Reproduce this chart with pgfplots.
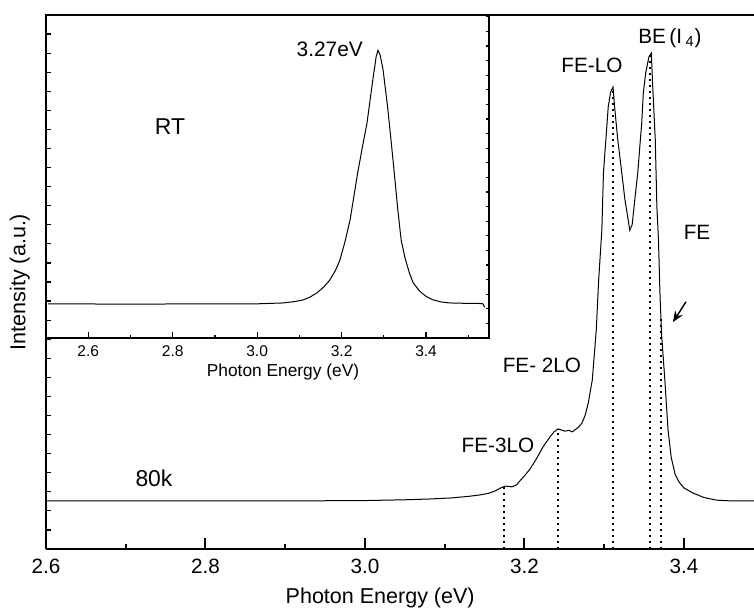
\documentclass[border=0pt]{standalone}
\usepackage{fontspec}
\setmainfont{Liberation Sans}
\usepackage{pgfplots}
\usepackage{pgfplotstable}
\pgfplotsset{compat=1.18}
\usetikzlibrary{arrows.meta}

% 80 K spectrum (main panel)
\pgfplotstableread{
E I
2.600 1.26
2.700 1.26
2.800 1.26
2.900 1.26
3.000 1.27
3.050 1.29
3.080 1.31
3.109 1.34
3.130 1.38
3.145 1.42
3.155 1.46
3.163 1.52
3.170 1.60
3.176 1.65
3.184 1.63
3.190 1.68
3.194 1.78
3.200 1.92
3.206 2.07
3.214 2.33
3.223 2.67
3.232 2.94
3.237 3.07
3.242 3.15
3.251 3.09
3.256 3.11
3.260 3.07
3.263 3.12
3.268 3.20
3.272 3.30
3.276 3.50
3.280 3.83
3.285 4.43
3.290 5.74
3.293 7.05
3.297 8.36
3.299 9.86
3.302 10.72
3.305 11.59
3.308 11.98
3.311 12.11
3.313 11.59
3.317 10.72
3.322 9.86
3.326 9.15
3.330 8.63
3.332 8.36
3.335 8.50
3.338 9.10
3.342 9.86
3.347 11.17
3.349 11.96
3.352 12.48
3.356 12.90
3.359 13.00
3.361 12.03
3.364 10.72
3.366 8.97
3.368 8.10
3.370 6.61
3.372 5.60
3.376 4.43
3.380 3.12
3.384 2.40
3.389 1.95
3.394 1.75
3.400 1.60
3.411 1.47
3.425 1.35
3.441 1.28
3.460 1.26
3.488 1.26
}\lowT

% room temperature spectrum (inset)
\pgfplotstableread{
E I
2.505 2.33
2.600 2.33
2.700 2.32
2.800 2.33
2.900 2.33
3.000 2.34
3.061 2.40
3.090 2.50
3.108 2.60
3.125 2.80
3.141 3.08
3.158 3.50
3.172 3.97
3.185 4.60
3.196 5.34
3.208 6.60
3.220 8.08
3.238 11.30
3.250 13.20
3.260 14.70
3.274 17.70
3.282 19.30
3.286 19.70
3.291 19.40
3.298 18.40
3.309 15.80
3.321 12.40
3.333 8.80
3.341 6.70
3.350 5.50
3.360 4.50
3.369 3.80
3.385 3.20
3.400 2.85
3.416 2.62
3.435 2.47
3.456 2.40
3.500 2.37
3.534 2.36
3.539 2.10
}\rtT

\newcommand{\lbl}{\fontsize{10.4}{12}\selectfont}

\begin{document}
\begin{tikzpicture}
\useasboundingbox (-23bp,-29.5bp) rectangle (354bp,274.5bp);

\begin{axis}[
    at={(0,0)}, anchor=south west,
    scale only axis,
    width=354bp, height=267bp,
    xmin=2.6, xmax=3.4878, ymin=0, ymax=14,
    axis x line*=box, axis y line*=left,
    axis line style={line width=1bp},
    xtick={2.6,2.8,...,3.41}, minor xtick={2.7,2.9,3.1,3.3},
    xtick pos=lower,
    ytick={0,14}, yticklabels={}, minor ytick={0.5,1,...,13.6},
    tick align=inside,
    major tick length=5.5bp, minor tick length=2.5bp,
    tick style={line width=1bp, black},
    minor y tick style={line width=0.6bp},
    xticklabel style={font=\lbl, anchor=north, yshift=-1.7bp},
    /pgf/number format/.cd, fixed, fixed zerofill, precision=1, assume math mode=true,
    /pgfplots/.cd,
    xlabel={Photon Energy (eV)},
    xlabel style={font=\fontsize{10.8}{12}\selectfont, at={(axis description cs:0.472,-0.0918)}, anchor=center},
    ylabel={Intensity (a.u.)},
    ylabel style={font=\fontsize{10.8}{12}\selectfont, at={(axis description cs:-0.037,0.5)}, anchor=center},
    clip=false,
]
\addplot[black, line width=0.5bp] table[x=E, y=I] {\lowT};
% dotted guides at the peak positions
\addplot[black, line width=0.8bp, dash pattern=on 0.8bp off 2.2bp] coordinates {(3.174,0) (3.174,1.65)};
\addplot[black, line width=0.8bp, dash pattern=on 0.8bp off 2.2bp] coordinates {(3.242,0) (3.242,3.15)};
\addplot[black, line width=0.8bp, dash pattern=on 0.8bp off 2.2bp] coordinates {(3.311,0) (3.311,12.11)};
\addplot[black, line width=0.8bp, dash pattern=on 0.8bp off 2.2bp] coordinates {(3.357,0) (3.357,12.95)};
\addplot[black, line width=0.8bp, dash pattern=on 0.8bp off 2.2bp] coordinates {(3.371,0) (3.371,6.10)};

\node[font=\fontsize{11.5}{13}\selectfont] at (axis cs:2.7354,1.86) {80k};
\node[font=\lbl] at (axis cs:3.1668,2.73) {FE-3LO};
\node[font=\lbl] at (axis cs:3.2219,4.82) {FE- 2LO};
\node[font=\lbl] at (axis cs:3.2846,12.69) {FE-LO};
\node[font=\lbl] at (axis cs:3.3824,13.40) {BE\,(I\,\textsubscript{4})};
\node[font=\lbl] at (axis cs:3.4163,8.29) {FE};
\draw[-{Stealth[length=5.5bp,width=4.5bp]}, line width=0.7bp] (axis cs:3.4025,6.48) -- (axis cs:3.3862,5.95);
\end{axis}

\begin{axis}[
    at={(0,105.5bp)}, anchor=south west,
    scale only axis,
    width=221.5bp, height=161.5bp,
    xmin=2.5, xmax=3.549, ymin=0, ymax=22.12,
    axis line style={line width=0.6bp},
    xtick={2.6,2.8,...,3.41}, minor xtick={2.7,2.9,3.1,3.3,3.5},
    xtick pos=lower,
    ytick={0}, yticklabels={}, minor ytick={1,...,22}, ytick pos=right,
    tick align=inside,
    major tick length=3bp, minor tick length=1.7bp,
    tick style={line width=0.6bp, black},
    xticklabel style={font=\fontsize{7.8}{9}\selectfont, anchor=north, yshift=-0.3bp},
    /pgf/number format/.cd, fixed, fixed zerofill, precision=1, assume math mode=true,
    /pgfplots/.cd,
    xlabel={Photon Energy (eV)},
    xlabel style={font=\fontsize{8.7}{10}\selectfont, at={(axis description cs:0.535,-0.105)}, anchor=center},
    clip=false,
]
\addplot[black, line width=0.5bp] table[x=E, y=I] {\rtT};
\node[font=\fontsize{11.5}{13}\selectfont] at (axis cs:2.7935,14.45) {RT};
\node[font=\fontsize{10.5}{12}\selectfont] at (axis cs:3.172,19.8) {3.27eV};
\end{axis}
\end{tikzpicture}
\end{document}
